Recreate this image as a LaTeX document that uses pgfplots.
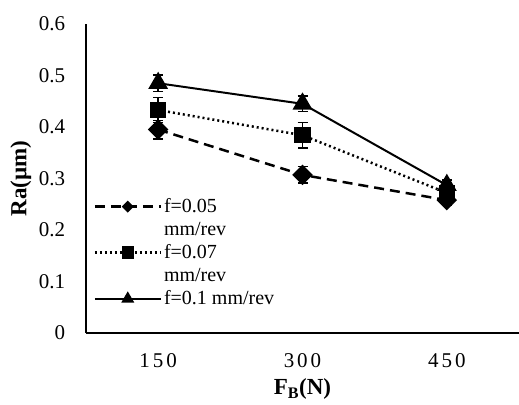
\documentclass[border=0pt]{standalone}
\usepackage{pgfplots}
\pgfplotsset{compat=1.18}
\usepackage{fontspec}
\setmainfont{Liberation Serif}
\begin{document}
\fontsize{20bp}{23bp}\selectfont
\begin{tikzpicture}
\path[use as bounding box] (-86bp,-72bp) rectangle (433bp,333bp);
\begin{axis}[
 at={(0,0)}, anchor=south west,
 scale only axis, width=433bp, height=309bp,
 xmin=0, xmax=3, ymin=0, ymax=0.6,
 clip=false,
 axis x line=bottom, axis y line=left,
 axis line style={-, line width=2bp},
 xtick={0.5,1.5,2.5},
 xticklabels={1\kern3bp5\kern3bp0, 3\kern3bp0\kern3bp0, 4\kern3bp5\kern3bp0},
 ytick={0,0.1,0.2,0.3,0.4,0.5,0.6},
 yticklabels={0,0.1,0.2,0.3,0.4,0.5,0.6},
 major tick length=0pt,
 tick label style={font=\fontsize{21bp}{24bp}\selectfont},
 yticklabel style={xshift=-14bp},
 xticklabel style={yshift=-14bp},
 xlabel={\textbf{F\textsubscript{B}(N)}},
 ylabel={\textbf{Ra(µm)}},
 label style={font=\fontsize{23bp}{26bp}\selectfont},
 xlabel style={yshift=3bp},
 ylabel style={yshift=-6bp},
 legend style={at={(rel axis cs:0.01,0.45)}, anchor=north west, draw=none, fill=none,
   font=\fontsize{20bp}{23bp}\selectfont, row sep=25bp},
 legend cell align=left,
 legend image code/.code={\draw[mark repeat=2,mark phase=2,#1] plot coordinates {(0bp,0bp)(33bp,0bp)(66bp,0bp)};},
]
\addplot[black, line width=2.5bp, dash pattern=on 10bp off 6bp,
  mark=square*, mark size=6bp, mark options={solid, rotate=45},
  legend image post style={mark size=3bp},
  error bars/.cd, y dir=both, y explicit,
  error bar style={solid, line width=1.5bp},
  error mark options={rotate=90, mark size=5bp, line width=1.5bp, solid}]
  coordinates {(0.5,0.395) +- (0,0.018) (1.5,0.307) +- (0,0.016) (2.5,0.258) +- (0,0.010)};
\addlegendentry{\parbox[t]{70bp}{f=0.05\\mm/rev}}
\addplot[black, line width=2.5bp, dash pattern=on 2bp off 3bp,
  mark=square*, mark size=7bp, mark options={solid},
  legend image post style={mark size=5bp},
  error bars/.cd, y dir=both, y explicit,
  error bar style={solid, line width=1.5bp},
  error mark options={rotate=90, mark size=5bp, line width=1.5bp, solid}]
  coordinates {(0.5,0.433) +- (0,0.024) (1.5,0.384) +- (0,0.025) (2.5,0.272) +- (0,0.010)};
\addlegendentry{\parbox[t]{70bp}{f=0.07\\mm/rev}}
\addplot[black, line width=2bp, solid,
  mark=triangle*, mark size=9.5bp, mark options={solid},
  legend image post style={mark size=5.5bp},
  error bars/.cd, y dir=both, y explicit,
  error bar style={solid, line width=1.5bp},
  error mark options={rotate=90, mark size=5bp, line width=1.5bp, solid}]
  coordinates {(0.5,0.485) +- (0,0.016) (1.5,0.445) +- (0,0.015) (2.5,0.287) +- (0,0.010)};
\addlegendentry{f=0.1 mm/rev}
\end{axis}
\end{tikzpicture}
\end{document}
